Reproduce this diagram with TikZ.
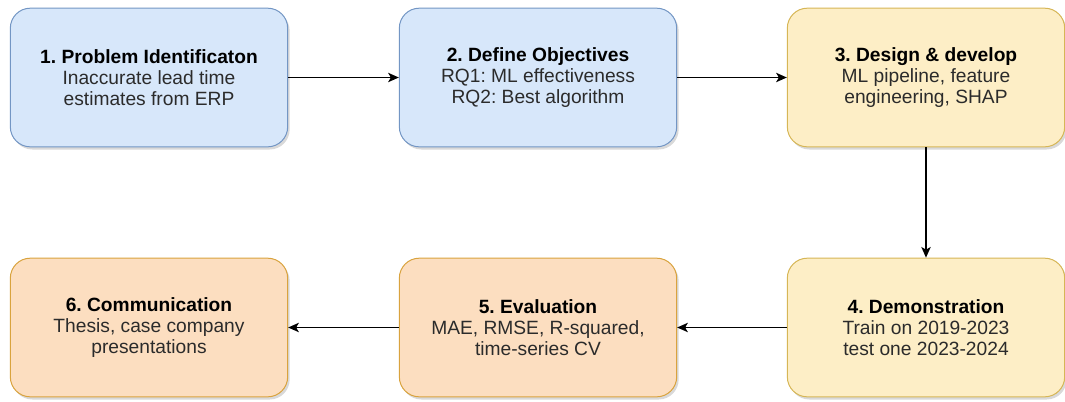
\documentclass[tikz,border=0pt]{standalone}
\usepackage{fontspec}
\setmainfont{Liberation Sans}
\usetikzlibrary{arrows.meta,shadows}
\frenchspacing

\definecolor{blueFill}{HTML}{D7E7FA}
\definecolor{blueLine}{HTML}{7396C4}
\definecolor{yellowFill}{HTML}{FDEEC6}
\definecolor{yellowLine}{HTML}{D6B656}
\definecolor{orangeFill}{HTML}{FCDEC0}
\definecolor{orangeLine}{HTML}{D9A33E}
\definecolor{bodyText}{HTML}{2B2B2B}

\tikzset{
	phase/.style={draw, rounded corners=15pt, line width=0.75pt,
		minimum width=208pt, minimum height=104pt, align=center,
		font=\fontsize{14.4}{16}\selectfont, text=bodyText,
		drop shadow={shadow xshift=1.5pt, shadow yshift=-2pt, opacity=0.3}},
	phaseblue/.style={phase, fill=blueFill, draw=blueLine},
	phaseyellow/.style={phase, fill=yellowFill, draw=yellowLine},
	phaseorange/.style={phase, fill=orangeFill, draw=orangeLine},
	flow/.style={-{Stealth[length=8pt,width=7pt,inset=2pt]}, line width=1.1pt}
}

\newcommand{\phasetitle}[1]{\textcolor{black}{\textbf{#1}}}

\begin{document}
\begin{tikzpicture}[x=0.75pt, y=-0.75pt]
	\useasboundingbox (0,0) rectangle (1065,401);
	% top row
	\node[phaseblue] (ident) at (149,77.5) {\phasetitle{1. Problem Identificaton}\\Inaccurate lead time\\estimates from ERP};
	\node[phaseblue] (objectives) at (538,77.5) {\phasetitle{2. Define Objectives}\\RQ1: ML effectiveness\\RQ2: Best algorithm};
	\node[phaseyellow] (design) at (926,77.5) {\phasetitle{3. Design \& develop}\\ML pipeline, feature\\engineering, SHAP};
	% bottom row
	\node[phaseyellow] (demo) at (926,327.5) {\phasetitle{4. Demonstration}\\Train on 2019-2023\\test one 2023-2024};
	\node[phaseorange] (eval) at (538,327.5) {\phasetitle{5. Evaluation}\\MAE, RMSE, R-squared,\\time-series CV};
	\node[phaseorange] (comm) at (149,327.5) {\phasetitle{6. Communication}\\Thesis, case company\\presentations};
	% connectors
	\draw[flow] (ident) -- (objectives);
	\draw[flow] (objectives) -- (design);
	\draw[flow] (design) -- (demo);
	\draw[flow] (demo) -- (eval);
	\draw[flow] (eval) -- (comm);
\end{tikzpicture}
\end{document}
